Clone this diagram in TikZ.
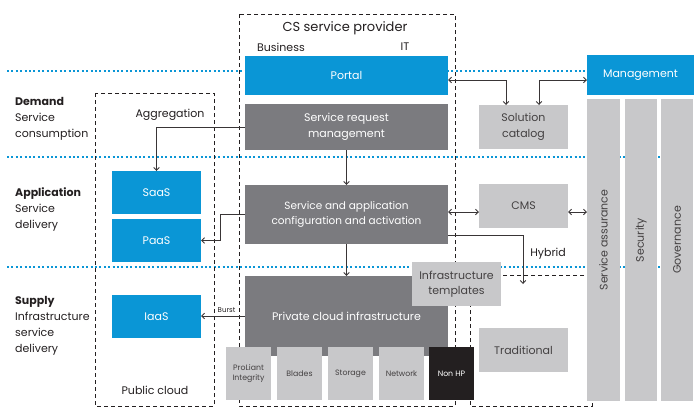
\documentclass[tikz,border=0pt]{standalone}
\usepackage{fontspec}
\setmainfont{Poppins}
\usepackage{xcolor}
\usetikzlibrary{positioning,arrows.meta}
\definecolor{hpblue}{HTML}{0A96D6}
\definecolor{hpdark}{HTML}{7B7B7F}
\definecolor{hplight}{HTML}{C8C8CA}
\definecolor{hpink}{HTML}{231F20}
\newcommand{\smallbox}{\fontsize{7.8}{9.5}\selectfont}

\begin{document}
\begin{tikzpicture}[x=1pt,y=-1pt,
  every node/.style={font=\fontsize{11}{15.5}\selectfont,text=hpink},
  box/.style={inner sep=0pt,outer sep=0pt,anchor=north west,align=center},
  bluebox/.style={box,fill=hpblue,text=white},
  darkbox/.style={box,fill=hpdark,text=white},
  lightbox/.style={box,fill=hplight,text=hpink!85},
  hwbox/.style={box,fill=hplight,text=hpink!85,anchor=north west,minimum width=45pt,minimum height=53pt,font=\smallbox},
  layer/.style={hpblue,line width=2pt,dash pattern=on 2pt off 2.4pt},
  zone/.style={hpink,line width=0.8pt,dash pattern=on 4pt off 3pt},
  tier/.style={anchor=north west,align=left,inner sep=0pt,font=\fontsize{11}{16}\selectfont},
  conn/.style={hpink!90,line width=1pt,-{Straight Barb[length=2.8pt,width=5.5pt]}},
  both/.style={conn,{Straight Barb[length=2.8pt,width=5.5pt]}-{Straight Barb[length=2.8pt,width=5.5pt]}}]
\useasboundingbox (0,0) rectangle (694,408);
\draw[layer] (7,71) -- (592,71);
\draw[layer] (7,157) -- (662,157);
\draw[layer] (7,267) -- (662,267);
\draw[zone] (239,14) rectangle (455,406);
\draw[zone] (95,93) rectangle (214,406);
\draw[zone] (470,275) rectangle (592,406);
\node[tier] (demand) at (15,97) {\textbf{Demand}\\Service\\consumption};
\node[tier] (application) at (15,187) {\textbf{Application}\\Service\\delivery};
\node[tier] (supply) at (15,296) {\textbf{Supply}\\Infrastructure\\service\\delivery};
\node[font=\fontsize{13}{15}\selectfont] (provider) at (345,28) {CS service provider};
\node (business) at (281,47) {Business};
\node (it) at (405,47) {IT};
\node (aggregation) at (170,115) {Aggregation};
\node (public) at (155,390) {Public cloud};
\node[bluebox,minimum width=203pt,minimum height=39pt] (portal) at (245,56) {Portal};
\node[darkbox,minimum width=203pt,minimum height=46pt] (srm) at (245,104) {Service request\\management};
\node[darkbox,minimum width=203pt,minimum height=59pt,font=\fontsize{10.5}{15.5}\selectfont] (saca) at (245,185) {Service and application\\configuration and activation};
\node[darkbox,minimum width=203pt,minimum height=80pt] (pci) at (245,276) {Private cloud infrastructure};
\node[hwbox] (proliant) at (226,347) {ProLiant\\Integrity};
\node[hwbox,right=6pt of proliant.north east,anchor=north west] (blades) {Blades};
\node[hwbox,right=6pt of blades.north east,anchor=north west] (storage) {Storage};
\node[hwbox,right=6pt of storage.north east,anchor=north west] (network) {Network};
\node[hwbox,fill=hpink,text=white,right=5pt of network.north east,anchor=north west] (nonhp) {Non HP};
\node[lightbox,minimum width=89pt,minimum height=44pt] (templates) at (412,262) {Infrastructure\\templates};
\node[lightbox,minimum width=89pt,minimum height=44pt] (catalog) at (479,105) {Solution\\catalog};
\node[lightbox,minimum width=89pt,minimum height=44pt] (cms) at (479,184) {CMS};
\node[lightbox,minimum width=89pt,minimum height=44pt] (traditional) at (479,328) {Traditional};
\node[bluebox,minimum width=107pt,minimum height=40pt] (mgmt) at (587,55) {Management};
\node[lightbox,minimum width=33pt,minimum height=302pt] (sa) at (587,99) {};
\node[lightbox,minimum width=32pt,minimum height=302pt] (security) at (625,99) {};
\node[lightbox,minimum width=32pt,minimum height=302pt] (governance) at (661,99) {};
\node[rotate=90,text=hpink!85] at ([yshift=10pt]sa.center) {Service assurance};
\node[rotate=90,text=hpink!85] at ([yshift=10pt]security.center) {Security};
\node[rotate=90,text=hpink!85] at ([yshift=10pt]governance.center) {Governance};
\node[bluebox,minimum width=89pt,minimum height=43pt] (saas) at (112,171) {SaaS};
\node[bluebox,minimum width=89pt,minimum height=43pt] (paas) at (112,219) {PaaS};
\node[bluebox,minimum width=89pt,minimum height=43pt] (iaas) at (112,295) {IaaS};
\coordinate (hybridend) at (523,284);
\draw[conn] (srm.west) -| (saas.north);
\draw[conn] (srm.south) -- (saca.north);
\draw[conn] (saca.south) -- (pci.north);
\draw[conn] (saca.west) -- ++(-25,0) |- (paas.east);
\draw[conn] (pci.west) -- (pci.west -| iaas.east) node[pos=0.42,above,inner sep=3pt,font=\fontsize{7}{8}\selectfont] {Burst};
\draw[both] ([yshift=-4.5pt]portal.east) -| ([xshift=-17.5pt]catalog.north);
\draw[both] ([xshift=15.5pt]catalog.north) |- ([yshift=-5pt]mgmt.west);
\draw[both] ([yshift=2.5pt]saca.east) -- ([yshift=2.5pt]saca.east -| cms.west);
\draw[both] ([yshift=-6pt]cms.east) -- ([yshift=-6pt]cms.east -| sa.west);
\draw[conn] ([yshift=-21pt]saca.east) -| (hybridend);
\node (hybrid) at (548,254) {Hybrid};
\end{tikzpicture}
\end{document}
